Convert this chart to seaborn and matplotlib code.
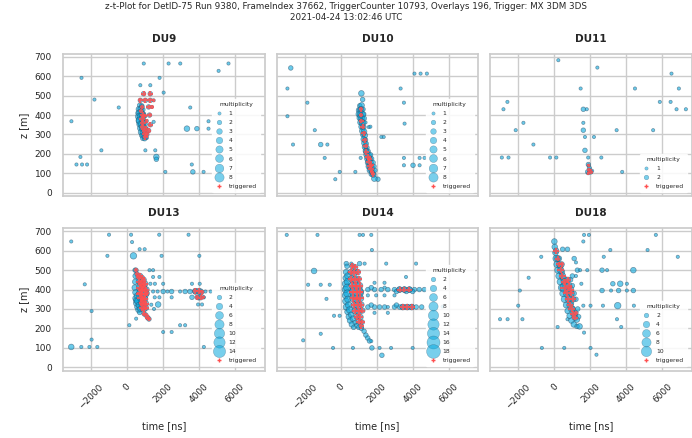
import numpy as np
import pandas as pd
import matplotlib
matplotlib.use("Agg")
import matplotlib.pyplot as plt
from matplotlib.lines import Line2D
import seaborn as sns

TITLE = ("z-t-Plot for DetID-75 Run 9380, FrameIndex 37662, TriggerCounter 10793, "
         "Overlays 196, Trigger: MX 3DM 3DS\n2021-04-24 13:02:46 UTC")

# Hits per detection unit: (time [ns], z [m], multiplicity, triggered)
du9_hits = [
    (930, 666, 1, 0), (2310, 666, 1, 0), (2960, 666, 1, 0), (5640, 666, 1, 0), (5090, 628, 1, 0),
    (-2530, 592, 1, 0), (1810, 592, 1, 0), (740, 554, 1, 0), (1295, 554, 1, 0), (2035, 516, 1, 0),
    (-1810, 480, 1, 0), (-460, 439, 1, 0), (3515, 439, 1, 0), (-3090, 368, 1, 0), (4530, 368, 1, 0),
    (1480, 365, 1, 0), (4530, 330, 1, 0), (3330, 330, 3, 0), (3885, 330, 2, 0), (-1425, 218, 1, 0),
    (1020, 218, 1, 0), (1570, 218, 1, 0), (-2590, 184, 1, 0), (1630, 184, 3, 0), (1630, 172, 2, 0),
    (-2810, 145, 1, 0), (-2500, 145, 1, 0), (-2220, 145, 1, 0), (3600, 145, 1, 0), (2130, 107, 1, 0),
    (3660, 107, 2, 0), (4255, 107, 1, 0),
    (700, 450, 2, 0), (820, 448, 2, 0), (660, 430, 3, 0), (760, 432, 3, 0), (880, 428, 2, 0),
    (640, 410, 3, 0), (720, 412, 4, 0), (820, 408, 3, 0), (920, 405, 2, 0),
    (650, 392, 4, 0), (740, 390, 4, 0), (850, 388, 3, 0), (980, 392, 1, 0),
    (680, 372, 4, 0), (770, 370, 8, 0), (880, 368, 3, 0), (1000, 365, 1, 0),
    (700, 352, 3, 0), (800, 350, 4, 0), (920, 348, 2, 0), (1050, 352, 1, 0),
    (740, 332, 3, 0), (840, 330, 3, 0), (960, 328, 2, 0), (1080, 330, 1, 0),
    (780, 312, 3, 0), (880, 310, 3, 0), (1000, 308, 2, 0), (1120, 312, 1, 0),
    (820, 295, 2, 0), (920, 292, 3, 0), (1040, 290, 2, 0),
    (880, 280, 2, 0), (980, 278, 2, 0), (1100, 282, 1, 0),
    (920, 510, 2, 1), (1290, 510, 2, 1), (740, 476, 2, 1), (1020, 476, 2, 1), (1290, 476, 2, 1),
    (1480, 476, 1, 1), (830, 442, 2, 1), (1200, 442, 2, 1), (1390, 442, 1, 1), (780, 420, 2, 1),
    (880, 400, 3, 1), (960, 395, 2, 1), (1250, 400, 2, 1), (820, 380, 3, 1), (1100, 370, 1, 1),
    (900, 360, 3, 1), (1300, 350, 2, 1), (860, 340, 3, 1), (1050, 330, 2, 1), (940, 320, 2, 1),
    (1200, 320, 2, 1), (980, 300, 2, 1), (1100, 300, 2, 1), (1020, 285, 2, 1),
]

du10_hits = [
    (-2775, 643, 2, 0), (-2960, 537, 1, 0), (3330, 537, 1, 0), (4100, 614, 1, 0), (4440, 614, 1, 0),
    (4790, 614, 1, 0), (-1850, 464, 1, 0), (3515, 464, 1, 0), (-2960, 394, 1, 0), (3550, 356, 1, 0),
    (-1440, 322, 1, 0), (2260, 287, 1, 0), (2390, 287, 1, 0), (-2650, 248, 1, 0), (-1110, 248, 2, 0),
    (-740, 248, 1, 0), (-890, 179, 1, 0), (1110, 179, 1, 0), (3515, 179, 1, 0), (4385, 179, 1, 0),
    (4660, 179, 1, 0), (3515, 141, 1, 0), (4020, 141, 2, 0), (4385, 141, 1, 0), (-55, 107, 1, 0),
    (815, 107, 1, 0), (-300, 69, 1, 0), (2070, 69, 2, 0), (1560, 338, 1, 0), (1650, 340, 1, 0),
    (1150, 512, 3, 0), (1220, 480, 2, 0), (1060, 448, 2, 0), (1160, 450, 3, 0), (1020, 425, 3, 0),
    (1120, 428, 4, 0), (1240, 430, 2, 0), (1030, 405, 4, 0), (1150, 402, 6, 0), (1280, 405, 2, 0),
    (1060, 385, 3, 0), (1170, 380, 4, 0), (1310, 383, 2, 0), (1100, 362, 3, 0), (1210, 360, 4, 0),
    (1380, 362, 1, 0), (1160, 340, 3, 0), (1260, 338, 3, 0), (1200, 318, 3, 0), (1300, 315, 3, 0),
    (1230, 298, 2, 0), (1340, 295, 3, 0), (1280, 275, 3, 0), (1380, 272, 2, 0), (1320, 255, 3, 0),
    (1420, 252, 2, 0), (1350, 235, 3, 0), (1460, 232, 2, 0), (1400, 215, 3, 0), (1500, 212, 3, 0),
    (1440, 195, 3, 0), (1560, 192, 3, 0), (1660, 195, 2, 0), (1480, 175, 3, 0), (1600, 172, 4, 0),
    (1720, 175, 2, 0), (1520, 155, 3, 0), (1650, 152, 4, 0), (1800, 155, 2, 0), (1560, 135, 3, 0),
    (1700, 132, 4, 0), (1850, 135, 2, 0), (1620, 115, 3, 0), (1760, 112, 3, 0), (1900, 115, 2, 0),
    (1700, 95, 2, 0), (1820, 92, 3, 0), (1870, 72, 3, 0),
    (1120, 430, 2, 1), (1120, 400, 2, 1), (1150, 370, 2, 1), (1220, 340, 2, 1), (1280, 305, 2, 1),
    (1330, 270, 2, 1), (1380, 240, 2, 1), (1430, 210, 3, 1), (1500, 185, 3, 1), (1600, 175, 2, 1),
    (1560, 160, 3, 1), (1700, 140, 2, 1), (1620, 135, 3, 1), (1680, 120, 3, 1), (1740, 105, 2, 1),
    (1800, 95, 2, 1),
]

du11_hits = [
    (220, 683, 1, 0), (2390, 645, 1, 0), (6510, 614, 1, 0), (1460, 537, 1, 0), (4480, 537, 1, 0),
    (6920, 537, 1, 0), (-2610, 468, 1, 0), (-2830, 430, 1, 0), (5860, 468, 1, 0), (6460, 468, 1, 0),
    (6790, 430, 1, 0), (7310, 430, 1, 0), (1610, 430, 2, 0), (1800, 430, 1, 0), (-1720, 360, 1, 0),
    (-2150, 322, 1, 0), (3460, 322, 1, 0), (5490, 322, 1, 0), (1610, 360, 1, 0), (1610, 322, 2, 0),
    (1700, 287, 1, 0), (2200, 287, 1, 0), (-1165, 248, 1, 0), (1700, 218, 2, 0), (-2920, 181, 1, 0),
    (-2550, 181, 1, 0), (-240, 181, 1, 0), (110, 181, 1, 0), (1880, 181, 1, 0), (2610, 181, 1, 0),
    (1890, 145, 2, 0), (1850, 107, 2, 0), (2000, 107, 2, 0), (2100, 112, 1, 0), (3770, 107, 1, 0),
    (1950, 125, 2, 0),
    (1900, 140, 1, 1), (1950, 115, 2, 1), (2050, 105, 1, 1), (1880, 100, 1, 1),
]

du13_hits = [
    (-3100, 648, 1, 0), (-1000, 683, 1, 0), (225, 683, 1, 0), (1790, 683, 1, 0), (3420, 683, 1, 0),
    (280, 645, 1, 0), (700, 608, 1, 0), (980, 608, 1, 0), (-1090, 574, 1, 0), (357, 574, 4, 0),
    (1920, 574, 1, 0), (4020, 574, 1, 0), (-2350, 427, 1, 0), (-1970, 289, 1, 0), (-1970, 142, 1, 0),
    (-3100, 104, 3, 0), (-2540, 104, 1, 0), (-2090, 104, 1, 0), (-1650, 104, 1, 0), (130, 216, 1, 0),
    (508, 250, 1, 0), (2950, 216, 1, 0), (3230, 216, 1, 0), (2010, 181, 1, 0), (2480, 181, 1, 0),
    (4270, 104, 1, 0),
    (1250, 500, 1, 0), (1450, 500, 1, 0), (1450, 465, 1, 0), (1800, 465, 1, 0), (1300, 430, 1, 0),
    (1550, 430, 1, 0), (2010, 430, 1, 0), (3610, 430, 1, 0), (4040, 430, 1, 0),
    (1450, 390, 1, 0), (1700, 390, 1, 0), (2010, 390, 2, 0), (2250, 390, 1, 0), (2480, 390, 2, 0),
    (2950, 390, 1, 0), (3230, 390, 2, 0), (3500, 390, 2, 0), (3800, 390, 3, 0), (4080, 390, 3, 0),
    (4360, 390, 1, 0), (4650, 390, 1, 0),
    (1540, 360, 1, 0), (1800, 360, 1, 0), (2480, 360, 1, 0), (3610, 360, 2, 0), (3990, 360, 3, 0),
    (4270, 360, 1, 0), (1350, 322, 1, 0), (1730, 323, 3, 0), (3950, 323, 1, 0), (4170, 323, 1, 0),
    (1500, 300, 1, 0),
    (450, 500, 2, 0), (480, 470, 3, 0), (460, 440, 3, 0), (430, 410, 3, 0), (470, 385, 3, 0),
    (500, 355, 4, 0), (540, 330, 4, 0), (580, 310, 3, 0), (640, 295, 3, 0), (700, 282, 2, 0),
    (520, 345, 3, 0), (560, 368, 3, 0), (600, 340, 4, 0), (660, 320, 3, 0), (740, 300, 3, 0),
    (500, 500, 2, 1), (560, 480, 2, 1), (620, 465, 2, 1), (720, 470, 3, 1), (820, 460, 3, 1),
    (920, 450, 3, 1), (660, 440, 3, 1), (770, 430, 4, 1), (890, 425, 4, 1), (1010, 430, 3, 1),
    (700, 410, 4, 1), (820, 400, 5, 1), (950, 405, 4, 1), (1080, 400, 3, 1), (720, 380, 4, 1),
    (850, 375, 14, 1), (980, 378, 4, 1), (1120, 380, 2, 1), (760, 355, 4, 1), (880, 350, 4, 1),
    (1010, 352, 3, 1), (800, 330, 3, 1), (920, 325, 4, 1), (1050, 328, 3, 1), (850, 305, 3, 1),
    (960, 300, 3, 1), (1080, 305, 2, 1), (950, 275, 2, 1), (1050, 268, 2, 1), (1150, 255, 2, 1),
    (1220, 248, 2, 1),
    (3800, 392, 3, 1), (3990, 392, 3, 1), (4150, 386, 2, 1), (3900, 360, 2, 1), (4100, 358, 2, 1),
    (4250, 360, 1, 1),
]

du14_hits = [
    (-3000, 682, 1, 0), (-1290, 682, 1, 0), (1050, 682, 1, 0), (1240, 682, 1, 0), (1700, 682, 1, 0),
    (1735, 604, 1, 0), (310, 534, 2, 0), (590, 534, 1, 0), (1050, 534, 2, 0), (1330, 534, 1, 0),
    (2530, 534, 1, 0), (4190, 534, 1, 0), (-1480, 496, 3, 0), (3630, 465, 1, 0), (-1810, 425, 1, 0),
    (-1110, 425, 1, 0), (-610, 425, 1, 0), (-790, 352, 1, 0), (-370, 265, 1, 0), (-60, 265, 1, 0),
    (-1110, 172, 1, 0), (-2085, 138, 1, 0), (-425, 99, 1, 0), (680, 99, 1, 0), (1735, 99, 2, 0),
    (2160, 99, 1, 0), (2800, 99, 1, 0), (4000, 99, 1, 0), (2290, 61, 2, 0), (5660, 312, 1, 0),
    (1510, 400, 2, 0), (1880, 400, 2, 0), (2250, 400, 2, 0), (2620, 400, 2, 0), (2990, 400, 2, 0),
    (3270, 400, 3, 0), (3540, 400, 3, 0), (3820, 400, 3, 0), (4100, 400, 2, 0), (4370, 400, 2, 0),
    (4650, 400, 2, 0), (1700, 410, 2, 0), (2440, 410, 1, 0), (3100, 390, 2, 0), (3650, 390, 2, 0),
    (4000, 390, 2, 0),
    (1510, 310, 2, 0), (1880, 310, 2, 0), (2160, 310, 2, 0), (2440, 310, 2, 0), (2620, 310, 1, 0),
    (2990, 310, 2, 0), (3270, 310, 2, 0), (3450, 310, 3, 0), (3700, 310, 3, 0), (3950, 310, 3, 0),
    (4200, 310, 2, 0), (4500, 310, 2, 0), (1700, 320, 2, 0), (3100, 320, 2, 0),
    (1510, 370, 1, 0), (1970, 370, 1, 0), (2435, 370, 1, 0), (2990, 370, 1, 0), (1880, 435, 1, 0),
    (2435, 435, 1, 0), (1880, 280, 1, 0), (2620, 280, 1, 0),
    (350, 520, 2, 0), (300, 490, 3, 0), (280, 460, 3, 0), (270, 430, 4, 0), (260, 400, 4, 0),
    (270, 370, 4, 0), (290, 340, 4, 0), (320, 310, 4, 0), (380, 285, 3, 0), (450, 260, 3, 0),
    (520, 240, 3, 0), (620, 220, 3, 0), (720, 205, 2, 0),
    (400, 470, 4, 0), (380, 440, 4, 0), (360, 410, 5, 0), (370, 380, 5, 0), (400, 350, 4, 0),
    (440, 320, 4, 0), (500, 295, 4, 0), (580, 270, 3, 0), (680, 250, 3, 0), (800, 230, 2, 0),
    (900, 215, 2, 0), (1000, 205, 2, 0), (1150, 200, 2, 0), (1300, 185, 2, 0), (1400, 165, 2, 0),
    (1500, 150, 2, 0), (1600, 135, 2, 0), (1700, 134, 1, 0),
    (650, 520, 3, 1), (800, 515, 3, 1), (550, 490, 3, 1), (750, 485, 4, 1), (950, 490, 3, 1),
    (600, 455, 4, 1), (800, 450, 5, 1), (1000, 455, 3, 1), (650, 420, 5, 1), (850, 418, 6, 1),
    (1050, 420, 4, 1), (680, 390, 5, 1), (880, 385, 18, 1), (1080, 388, 4, 1), (700, 355, 5, 1),
    (900, 352, 6, 1), (1100, 355, 4, 1), (750, 320, 4, 1), (950, 318, 5, 1), (1150, 322, 3, 1),
    (800, 290, 4, 1), (1000, 288, 4, 1), (1200, 292, 3, 1), (900, 260, 3, 1), (1100, 258, 3, 1),
    (1000, 235, 3, 1), (1200, 232, 2, 1), (1150, 210, 2, 1),
    (3270, 400, 3, 1), (3540, 400, 3, 1), (3820, 400, 3, 1), (3450, 310, 3, 1), (3700, 310, 3, 1),
    (3950, 310, 3, 1),
]

du18_hits = [
    (0, 648, 3, 0), (1650, 682, 1, 0), (1920, 682, 1, 0), (1610, 648, 1, 0), (5640, 682, 1, 0),
    (3110, 604, 1, 0), (5180, 604, 1, 0), (6860, 569, 1, 0), (-730, 569, 1, 0), (2745, 569, 1, 0),
    (-1430, 461, 1, 0), (2650, 500, 2, 0), (2930, 500, 1, 0), (4390, 500, 3, 0), (-1920, 395, 1, 0),
    (-2010, 317, 1, 0), (-3020, 247, 1, 0), (-2600, 247, 1, 0), (-1775, 247, 1, 0), (180, 207, 1, 0),
    (730, 247, 1, 0), (1610, 317, 1, 0), (2010, 317, 1, 0), (2650, 395, 2, 0), (3150, 395, 1, 0),
    (3570, 395, 2, 0), (4030, 395, 1, 0), (4390, 395, 2, 0), (3250, 430, 2, 0), (3660, 430, 3, 0),
    (4030, 430, 1, 0), (2700, 317, 1, 0), (3520, 317, 4, 0), (4420, 317, 1, 0), (3480, 247, 1, 0),
    (3715, 207, 1, 0), (1650, 178, 1, 0), (-695, 99, 1, 0), (550, 99, 1, 0), (2010, 99, 1, 0),
    (2340, 64, 1, 0),
    (460, 608, 2, 0), (730, 608, 2, 0), (1280, 500, 2, 0), (1430, 500, 1, 0), (1830, 500, 1, 0),
    (1000, 470, 2, 0), (1200, 470, 1, 0), (1500, 430, 1, 0), (1100, 560, 2, 0), (1200, 540, 1, 0),
    (20, 620, 3, 0), (60, 590, 3, 0), (100, 560, 4, 0), (150, 530, 4, 0), (200, 500, 4, 0),
    (260, 470, 4, 0), (330, 440, 4, 0), (400, 410, 4, 0), (480, 380, 4, 0), (560, 350, 4, 0),
    (650, 320, 3, 0), (740, 290, 3, 0), (850, 265, 3, 0), (950, 240, 3, 0), (1080, 220, 3, 0),
    (1260, 210, 2, 0), (1400, 210, 3, 0),
    (250, 560, 3, 0), (330, 520, 3, 0), (420, 490, 3, 0), (520, 455, 4, 0), (620, 420, 4, 0),
    (720, 390, 4, 0), (820, 360, 3, 0), (920, 330, 3, 0), (1020, 300, 3, 0), (1120, 270, 3, 0),
    (1250, 245, 3, 0), (1350, 260, 2, 0), (1100, 380, 2, 0), (1200, 350, 2, 0), (1300, 300, 2, 0),
    (900, 450, 2, 0), (1000, 420, 2, 0),
    (100, 600, 3, 1), (180, 560, 3, 1), (260, 530, 3, 1), (350, 500, 4, 1), (450, 470, 4, 1),
    (550, 440, 4, 1), (600, 410, 10, 1), (700, 380, 5, 1), (780, 350, 4, 1), (870, 320, 4, 1),
    (960, 300, 4, 1), (1050, 275, 3, 1), (1150, 255, 3, 1), (800, 420, 4, 1), (900, 400, 4, 1),
    (950, 380, 3, 1), (1050, 350, 3, 1), (750, 450, 3, 1), (400, 530, 3, 1), (1200, 280, 2, 1),
]

du_names = ["DU9", "DU10", "DU11", "DU13", "DU14", "DU18"]
du_hits = [du9_hits, du10_hits, du11_hits, du13_hits, du14_hits, du18_hits]
legend_levels = [
    [1, 2, 3, 4, 5, 6, 7, 8],
    [1, 2, 3, 4, 5, 6, 7, 8],
    [1, 2],
    [2, 4, 6, 8, 10, 12, 14],
    [2, 4, 6, 8, 10, 12, 14, 16, 18],
    [2, 4, 6, 8, 10],
]
x_ticks = [-2000, 0, 2000, 4000, 6000]
y_ticks = [0, 100, 200, 300, 400, 500, 600, 700]

HIT_COLOR = "#09A9DE"
HIT_EDGE = "#2e5670"
TRIG_COLOR = "#FF5050"
AREA_PER_HIT = 5.5          # marker area (pt^2) per unit of multiplicity
MULT_RANGE = (0, 20)
SIZES = (MULT_RANGE[0] * AREA_PER_HIT, MULT_RANGE[1] * AREA_PER_HIT)

sns.set_theme(style="whitegrid")
plt.rcParams["font.family"] = ["DejaVu Sans"]

fig, axes = plt.subplots(2, 3, sharex=True, sharey=True, figsize=(6.92, 4.38), dpi=100)
fig.subplots_adjust(left=0.091, right=1.0, top=0.8767, bottom=0.153,
                    wspace=0.0595, hspace=0.2246)

for ax, name, hits, levels in zip(axes.flat, du_names, du_hits, legend_levels):
    df = pd.DataFrame(hits, columns=["time", "z", "multiplicity", "triggered"])
    sns.scatterplot(data=df, x="time", y="z", size="multiplicity", sizes=SIZES,
                    size_norm=MULT_RANGE, color=HIT_COLOR, alpha=0.6,
                    edgecolor=HIT_EDGE, linewidth=0.5, legend=False, ax=ax)
    trig = df[df["triggered"] == 1]
    sns.scatterplot(data=trig, x="time", y="z", size="multiplicity", sizes=SIZES,
                    size_norm=MULT_RANGE, color=TRIG_COLOR, marker="+", alpha=0.85,
                    linewidth=1.6, legend=False, ax=ax)

    handles = [Line2D([], [], linestyle="", marker="o",
                      markersize=np.sqrt(lv * AREA_PER_HIT),
                      markerfacecolor=HIT_COLOR, markeredgecolor=HIT_EDGE,
                      markeredgewidth=0.3, alpha=0.55) for lv in levels]
    handles.append(Line2D([], [], linestyle="", marker="+", markersize=3,
                          color=TRIG_COLOR, markeredgewidth=1.0))
    labels = [str(lv) for lv in levels] + ["triggered"]
    ax.legend(handles, labels, title="multiplicity", loc="lower right",
              fontsize=4.3, title_fontsize=4.3, labelspacing=0.65,
              handlelength=1.2, handletextpad=1.05, borderpad=0.5,
              borderaxespad=0.8, frameon=True, framealpha=0.85,
              edgecolor="white")

    ax.set_title(name, fontsize=7.5, fontweight="bold", pad=9)
    ax.set_xlim(-3560, 7650)
    ax.set_ylim(-20, 715)
    ax.set_xticks(x_ticks)
    ax.set_yticks(y_ticks)
    ax.set_xlabel("")
    ax.set_ylabel("")
    ax.tick_params(labelsize=6.5, pad=2)
    ax.tick_params(axis="x", labelrotation=45)

for ax in axes[1]:
    ax.set_xlabel("time [ns]", fontsize=7, labelpad=8)
for ax in axes[:, 0]:
    ax.set_ylabel("z [m]", fontsize=7)

fig.suptitle(TITLE, fontsize=6.3, y=0.995)

fig.savefig("out.png", dpi=100)
